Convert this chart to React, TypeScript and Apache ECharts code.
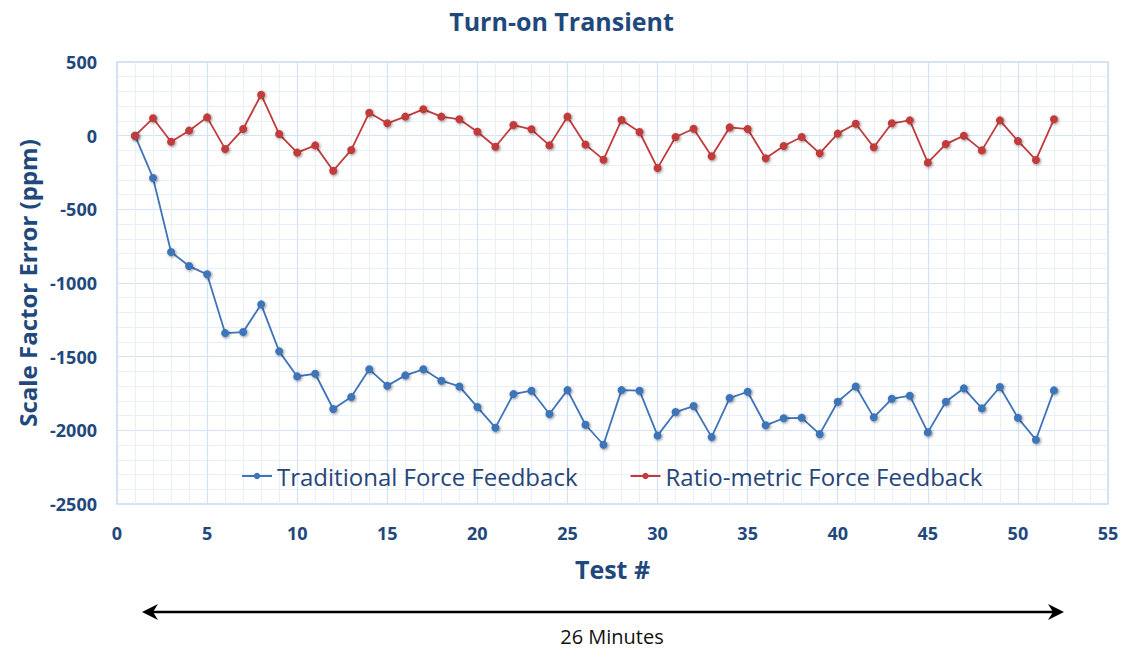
import React, { useEffect, useRef } from "react";
import * as echarts from "echarts";

const testNumbers = Array.from({ length: 52 }, (_, i) => i + 1);

const traditional = [
  0, -287, -790, -885, -941, -1340, -1333, -1145, -1464, -1634,
  -1616, -1855, -1774, -1586, -1697, -1627, -1586, -1663, -1702, -1842,
  -1982, -1754, -1731, -1889, -1727, -1962, -2098, -1727, -1731, -2036,
  -1876, -1835, -2046, -1781, -1738, -1966, -1918, -1915, -2026, -1806,
  -1702, -1912, -1786, -1765, -2014, -1806, -1715, -1851, -1706, -1915,
  -2064, -1729,
];

const ratiometric = [
  0, 118, -41, 34, 124, -90, 45, 278, 11, -115,
  -66, -238, -97, 156, 84, 129, 179, 129, 111, 27,
  -75, 72, 43, -66, 129, -61, -163, 106, 25, -220,
  -9, 47, -140, 56, 45, -154, -70, -9, -120, 14,
  81, -79, 84, 104, -183, -57, 0, -100, 104, -36,
  -165, 111,
];

const seriesNames = ["Traditional Force Feedback", "Ratio-metric Force Feedback"];
const titleText = "Turn-on Transient";
const xAxisName = "Test #";
const yAxisName = "Scale Factor Error (ppm)";
const spanLabel = "26 Minutes";

const FONT = "'Open Sans', sans-serif";
const NAVY = "#1f497d";

export default function App() {
  const ref = useRef<HTMLDivElement>(null);
  useEffect(() => {
    if (!ref.current) return;
    const chart = echarts.init(ref.current, null, { renderer: "svg" });
    const pair = (arr: number[]) => arr.map((v, i) => [testNumbers[i], v]);
    chart.setOption({
      animation: false,
      backgroundColor: "#ffffff",
      title: {
        text: titleText,
        left: "center",
        top: 3,
        textStyle: { fontFamily: FONT, fontSize: 25, fontWeight: "bold", color: NAVY },
      },
      grid: {
        left: 117, right: 15, top: 62, bottom: 146,
        containLabel: false, outerBoundsMode: "none",
        show: true, borderColor: "#c6d9f0", borderWidth: 1.5, backgroundColor: "transparent",
      },
      legend: {
        data: seriesNames,
        top: 459,
        left: 236,
        itemWidth: 30,
        itemHeight: 8,
        itemGap: 52,
        textStyle: { fontFamily: FONT, fontSize: 24, color: "#26467a" },
      },
      xAxis: {
        type: "value",
        min: 0,
        max: 55,
        interval: 5,
        name: xAxisName,
        nameLocation: "middle",
        nameGap: 52,
        nameTextStyle: { fontFamily: FONT, fontSize: 25, fontWeight: "bold", color: NAVY },
        axisLine: { show: false },
        axisTick: { show: false },
        axisLabel: { fontFamily: FONT, fontSize: 18, fontWeight: "bold", color: NAVY, margin: 20 },
        splitLine: { show: true, lineStyle: { color: "#d3e2f4", width: 1.2 } },
        minorTick: { show: false, splitNumber: 5 },
        minorSplitLine: { show: true, lineStyle: { color: "#e8eff9", width: 1 } },
      },
      yAxis: {
        type: "value",
        min: -2500,
        max: 500,
        interval: 500,
        name: yAxisName,
        nameLocation: "middle",
        nameGap: 78,
        nameTextStyle: { fontFamily: FONT, fontSize: 24, fontWeight: "bold", color: NAVY },
        axisLine: { show: false },
        axisTick: { show: false },
        axisLabel: { fontFamily: FONT, fontSize: 18, fontWeight: "bold", color: NAVY, margin: 20, formatter: (v: number) => String(v) },
        splitLine: { show: true, lineStyle: { color: "#d3e2f4", width: 1.2 } },
        minorTick: { show: false, splitNumber: 5 },
        minorSplitLine: { show: true, lineStyle: { color: "#e8eff9", width: 1 } },
      },
      series: [
        {
          name: seriesNames[0],
          type: "line",
          data: pair(traditional),
          symbol: "circle",
          symbolSize: 8,
          lineStyle: { color: "#3e74b9", width: 1.8 },
          itemStyle: { color: "#3e74b9", shadowBlur: 3, shadowColor: "rgba(0,0,0,0.45)", shadowOffsetX: 1, shadowOffsetY: 1 },
          z: 3,
        },
        {
          name: seriesNames[1],
          type: "line",
          data: pair(ratiometric),
          symbol: "circle",
          symbolSize: 8,
          lineStyle: { color: "#c23b3b", width: 1.8 },
          itemStyle: { color: "#c23b3b", shadowBlur: 3, shadowColor: "rgba(0,0,0,0.45)", shadowOffsetX: 1, shadowOffsetY: 1 },
          z: 3,
        },
      ],
      graphic: [
        { type: "line", shape: { x1: 150, y1: 612, x2: 1056, y2: 612 }, style: { stroke: "#000", lineWidth: 2.5 } },
        { type: "polygon", shape: { points: [[142, 612], [158, 604], [153, 612], [158, 620]] }, style: { fill: "#000" } },
        { type: "polygon", shape: { points: [[1064, 612], [1048, 604], [1053, 612], [1048, 620]] }, style: { fill: "#000" } },
        {
          type: "text",
          x: 612,
          y: 636,
          style: { text: spanLabel, fontFamily: FONT, fontSize: 20, fill: "#111", align: "center", verticalAlign: "middle" },
        },
      ],
    });
    return () => chart.dispose();
  }, []);
  return <div ref={ref} style={{ width: 1123, height: 650, position: "absolute", left: 0, top: 0 }} />;
}
